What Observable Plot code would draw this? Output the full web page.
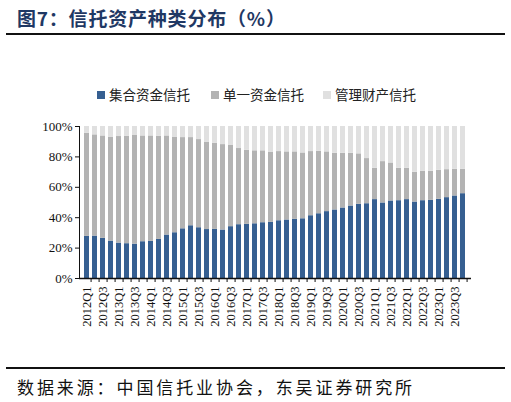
<!DOCTYPE html>
<html>
<head>
<meta charset="utf-8">
<script src="https://cdn.jsdelivr.net/npm/d3@7"></script>
<script src="https://cdn.jsdelivr.net/npm/@observablehq/plot@0.6"></script>
<style>
  body { margin: 0; width: 511px; height: 402px; background: #fff; position: relative; overflow: hidden; font-family: "Noto Sans CJK SC", sans-serif; }
  #title { position: absolute; left: 17px; top: 4px; font-size: 19px; font-weight: bold; color: #1f3864; letter-spacing: 0.8px; white-space: nowrap; }
  .line { position: absolute; left: 6px; width: 499px; height: 2px; background: #111; }
  .leg { position: absolute; top: 84px; font-size: 13.5px; color: #222; white-space: nowrap; }
  .leg i { display: inline-block; width: 8px; height: 8px; margin-right: 4px; vertical-align: 1px; }
  #chart { position: absolute; left: 0; top: 110px; }
  #source { position: absolute; left: 17px; top: 374px; font-size: 17px; letter-spacing: 2.9px; color: #111; white-space: nowrap; }
</style>
</head>
<body>
<div id="title">图7：信托资产种类分布（%）</div>
<div class="line" style="top:33px"></div>
<div class="leg" style="left:97px"><i style="background:#365f91"></i>集合资金信托</div>
<div class="leg" style="left:211px"><i style="background:#b3b3b3"></i>单一资金信托</div>
<div class="leg" style="left:323px"><i style="background:#e0e0e0"></i>管理财产信托</div>
<div id="chart"></div>
<div class="line" style="top:367px"></div>
<div id="source">数据来源：中国信托业协会，东吴证券研究所</div>
<script>
const quarters = [
  "2012Q1","2012Q2","2012Q3","2012Q4","2013Q1","2013Q2","2013Q3","2013Q4",
  "2014Q1","2014Q2","2014Q3","2014Q4","2015Q1","2015Q2","2015Q3","2015Q4",
  "2016Q1","2016Q2","2016Q3","2016Q4","2017Q1","2017Q2","2017Q3","2017Q4",
  "2018Q1","2018Q2","2018Q3","2018Q4","2019Q1","2019Q2","2019Q3","2019Q4",
  "2020Q1","2020Q2","2020Q3","2020Q4","2021Q1","2021Q2","2021Q3","2021Q4",
  "2022Q1","2022Q2","2022Q3","2022Q4","2023Q1","2023Q2","2023Q3","2023Q4"
];
const seriesNames = ["集合资金信托", "单一资金信托", "管理财产信托"];
const seriesColors = ["#365f91", "#b3b3b3", "#e0e0e0"];

// 集合资金信托 (%)
const collective = [
  27.7, 27.9, 26.4, 24.6, 23.3, 22.9, 22.6, 24.2, 24.4, 25.7, 28.6, 30.1,
  32.7, 34.7, 33.4, 32.2, 32.3, 31.9, 34.1, 35.4, 35.6, 36.0, 36.7, 36.9,
  38.0, 38.5, 38.9, 39.3, 41.3, 42.6, 44.0, 45.1, 46.4, 47.7, 48.8, 49.2,
  51.9, 49.7, 51.0, 51.2, 51.9, 50.3, 51.2, 51.4, 52.1, 53.2, 54.3, 55.8
];
// 单一资金信托 (%)
const single = [
  67.9, 66.6, 67.4, 68.4, 70.1, 70.7, 71.5, 69.6, 69.4, 67.9, 65.2, 62.9,
  60.0, 58.0, 58.0, 57.5, 56.7, 56.2, 53.4, 50.1, 48.8, 48.0, 47.3, 46.0,
  45.5, 44.8, 44.4, 43.3, 42.2, 41.1, 39.3, 37.3, 36.0, 34.7, 33.2, 29.7,
  20.6, 27.2, 25.0, 21.3, 20.6, 19.6, 19.3, 19.1, 19.1, 18.4, 17.6, 16.1
];
// 管理财产信托 (%)
const managed = [
   4.4,  5.5,  6.2,  7.0,  6.6,  6.4,  5.9,  6.2,  6.2,  6.4,  6.2,  7.0,
   7.3,  7.3,  8.6, 10.3, 11.0, 11.9, 12.5, 14.5, 15.6, 16.0, 16.0, 17.1,
  16.5, 16.7, 16.7, 17.4, 16.5, 16.3, 16.7, 17.6, 17.6, 17.6, 18.0, 21.1,
  27.5, 23.1, 24.0, 27.5, 27.5, 30.1, 29.5, 29.5, 28.8, 28.4, 28.1, 28.1
];
const yTicks = [0, 20, 40, 60, 80, 100];

const rows = [];
[collective, single, managed].forEach((vals, s) => {
  quarters.forEach((q, i) => rows.push({quarter: q, series: seriesNames[s], value: vals[i]}));
});

const width = 511, marginLeft = 79, marginRight = 40;
const step = (width - marginLeft - marginRight) / quarters.length;
const serif = "Liberation Serif, Times New Roman, serif";

const chart = Plot.plot({
  width: width,
  height: 232,
  marginTop: 16,
  marginBottom: 64,
  marginLeft: marginLeft,
  marginRight: marginRight,
  x: {type: "band", domain: quarters, paddingInner: 0.32, paddingOuter: 0.16, axis: null},
  y: {domain: [0, 100], axis: null},
  color: {domain: seriesNames, range: seriesColors},
  marks: [
    Plot.barY(rows, {x: "quarter", y: "value", fill: "series", order: seriesNames}),
    Plot.axisY({ticks: yTicks, tickFormat: d => d + "%", tickSize: 4, tickPadding: 3, label: null,
      fontSize: 13, fontFamily: serif, fill: "#111", stroke: "#111"}),
    Plot.frame({anchor: "left", stroke: "#111"}),
    Plot.ruleY([0], {stroke: "#111", strokeWidth: 1.3}),
    Plot.axisX({ticks: quarters, tickFormat: () => "", tickSize: 4, dx: step / 2, stroke: "#111", label: null}),
    Plot.axisX({ticks: quarters.filter((d, i) => i % 2 === 0), tickSize: 0, tickPadding: 8,
      tickRotate: -90, fontSize: 12.5, fontFamily: serif, fill: "#111", label: null})
  ]
});
document.getElementById("chart").append(chart);
</script>
</body>
</html>
